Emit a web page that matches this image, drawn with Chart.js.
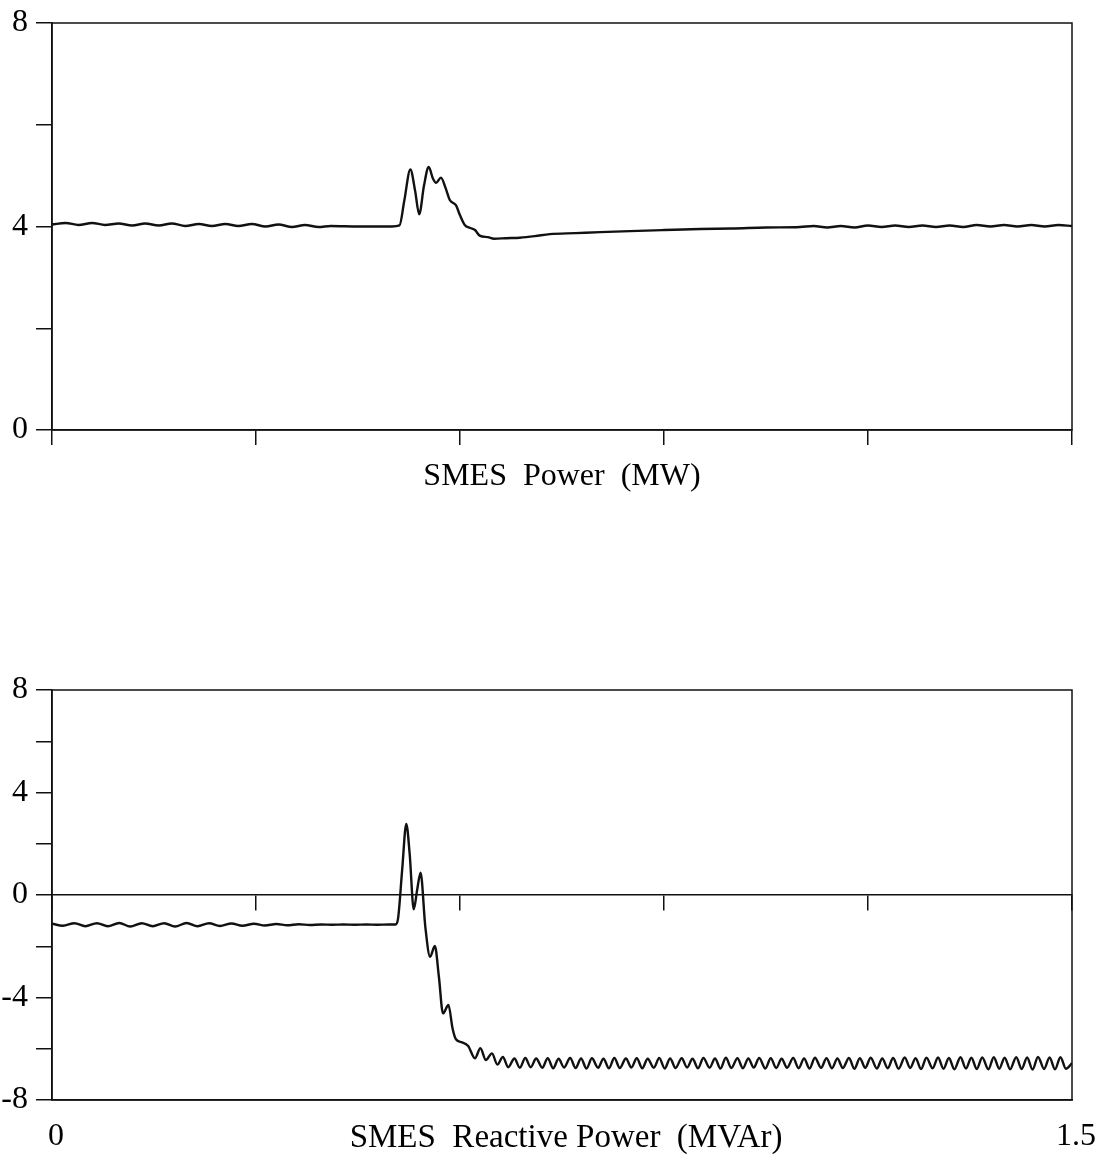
<!DOCTYPE html>
<html>
<head>
<meta charset="utf-8">
<script src="https://cdn.jsdelivr.net/npm/chart.js@4"></script>
<style>
  body { margin: 0; background: #fff; }
  .box { position: absolute; left: 0; width: 1114px; }
  #top-box { top: 0; height: 520px; }
  #bottom-box { top: 640px; height: 525px; }
</style>
</head>
<body>
<div class="box" id="top-box"><canvas id="powerChart"></canvas></div>
<div class="box" id="bottom-box"><canvas id="reactiveChart"></canvas></div>
<script>
// time axis (s)
const timeTicks = [0, 0.3, 0.6, 0.9, 1.2, 1.5];
const timeLabels = [0, 1.5];

// SMES power (MW)
const powerTicks = [0, 2, 4, 6, 8];
const powerLabels = [0, 4, 8];
const powerTime = [
  0, 0.02, 0.039, 0.059, 0.078, 0.098, 0.118, 0.137, 0.157, 0.176, 0.196, 0.216, 0.235, 0.255,
  0.274, 0.294, 0.314, 0.333, 0.353, 0.372, 0.392, 0.41, 0.45, 0.5, 0.511,
  0.518, 0.527, 0.534, 0.540, 0.547, 0.554, 0.560, 0.565, 0.572, 0.579, 0.585, 0.594, 0.600,
  0.607, 0.615, 0.622, 0.629, 0.641, 0.650, 0.668, 0.688, 0.71, 0.732, 0.77, 0.806, 0.85,
  0.9, 0.953, 1.0, 1.05, 1.1, 1.12, 1.14, 1.16, 1.18, 1.2, 1.22, 1.24, 1.26, 1.28, 1.3,
  1.32, 1.34, 1.36, 1.38, 1.4, 1.42, 1.44, 1.46, 1.48, 1.5
];
const powerValue = [
  4.04, 4.07, 4.03, 4.07, 4.03, 4.06, 4.02, 4.06, 4.02, 4.06, 4.01, 4.05, 4.01, 4.05,
  4.01, 4.05, 4.0, 4.04, 3.99, 4.03, 3.99, 4.01, 4.0, 4.0, 4.02,
  4.5, 5.12, 4.7, 4.24, 4.8, 5.17, 4.95, 4.86, 4.96, 4.75, 4.52, 4.42, 4.22,
  4.03, 3.97, 3.93, 3.82, 3.79, 3.76, 3.77, 3.78, 3.81, 3.85, 3.87, 3.89, 3.91,
  3.93, 3.95, 3.96, 3.98, 3.99, 4.01, 3.98, 4.01, 3.98, 4.02, 3.99, 4.02, 3.99, 4.02, 3.99,
  4.02, 3.99, 4.03, 4.0, 4.03, 4.0, 4.03, 4.0, 4.03, 4.01
];

// SMES reactive power (MVAr)
const reactiveTicks = [-8, -6, -4, -2, 0, 2, 4, 6, 8];
const reactiveLabels = [-8, -4, 0, 4, 8];
const reactiveTime = [
  0, 0.016, 0.033, 0.049, 0.066, 0.082, 0.099, 0.115, 0.132, 0.148, 0.165, 0.181, 0.198, 0.214,
  0.231, 0.247, 0.264, 0.280, 0.297, 0.313, 0.330, 0.346, 0.363, 0.379, 0.396, 0.412, 0.429,
  0.445, 0.462, 0.478, 0.495, 0.505,
  0.509, 0.515, 0.521, 0.526, 0.532, 0.537, 0.542, 0.549, 0.556, 0.563, 0.569, 0.575, 0.583,
  0.589, 0.594, 0.603, 0.612, 0.622, 0.630, 0.638, 0.647,
  0.655, 0.663, 0.671, 0.680, 0.688, 0.696, 0.704, 0.712, 0.721, 0.729, 0.737, 0.745, 0.753,
  0.762, 0.770, 0.778, 0.786, 0.794, 0.803, 0.811, 0.819, 0.827, 0.835, 0.844, 0.852, 0.860,
  0.868, 0.876, 0.885, 0.893, 0.901, 0.909, 0.917, 0.926, 0.934, 0.942, 0.950, 0.958, 0.967,
  0.975, 0.983, 0.991, 0.999, 1.008, 1.016, 1.024, 1.032, 1.040, 1.049, 1.057, 1.065, 1.073,
  1.081, 1.090, 1.098, 1.106, 1.114, 1.122, 1.131, 1.139, 1.147, 1.155, 1.163, 1.172, 1.180,
  1.188, 1.196, 1.204, 1.213, 1.221, 1.229, 1.237, 1.245, 1.254, 1.262, 1.270, 1.278, 1.286,
  1.295, 1.303, 1.311, 1.319, 1.327, 1.336, 1.344, 1.352, 1.360, 1.368, 1.377, 1.385, 1.393,
  1.401, 1.409, 1.418, 1.426, 1.434, 1.442, 1.450, 1.459, 1.467, 1.475, 1.483, 1.491, 1.500
];
const reactiveValue = [
  -1.12, -1.2, -1.1, -1.22, -1.1, -1.22, -1.09, -1.23, -1.1, -1.22, -1.1, -1.23, -1.09, -1.22,
  -1.1, -1.21, -1.11, -1.2, -1.12, -1.19, -1.13, -1.18, -1.14, -1.17, -1.15, -1.16, -1.15,
  -1.16, -1.15, -1.16, -1.15, -1.15,
  -0.9, 1.0, 2.77, 1.6, -0.56, 0.2, 0.87, -1.24, -2.41, -1.99, -3.2, -4.62, -4.29,
  -5.2, -5.63, -5.75, -5.89, -6.37, -5.98, -6.44, -6.18,
  -6.62, -6.32, -6.72, -6.38, -6.74, -6.36, -6.72, -6.38, -6.74, -6.37, -6.76, -6.39, -6.73,
  -6.36, -6.75, -6.38, -6.77, -6.37, -6.74, -6.39, -6.76, -6.36, -6.75, -6.38, -6.73, -6.37,
  -6.76, -6.39, -6.74, -6.36, -6.77, -6.38, -6.75, -6.37, -6.73, -6.39, -6.76, -6.36, -6.74,
  -6.38, -6.77, -6.35, -6.75, -6.37, -6.76, -6.38, -6.73, -6.36, -6.77, -6.37, -6.75, -6.39,
  -6.74, -6.36, -6.76, -6.38, -6.77, -6.35, -6.74, -6.37, -6.76, -6.38, -6.75, -6.36, -6.78,
  -6.37, -6.74, -6.35, -6.77, -6.38, -6.76, -6.36, -6.78, -6.34, -6.75, -6.37, -6.79, -6.35,
  -6.76, -6.34, -6.78, -6.36, -6.8, -6.33, -6.77, -6.35, -6.79, -6.34, -6.8, -6.33, -6.78,
  -6.35, -6.8, -6.33, -6.79, -6.34, -6.81, -6.32, -6.79, -6.34, -6.8, -6.33, -6.78, -6.56
];

const ink = '#111';
const labelFont = { family: 'Liberation Serif', size: 32 };

// box around the plot area
const frame = {
  id: 'frame',
  beforeDatasetsDraw(chart) {
    const { ctx, chartArea: a } = chart;
    ctx.save();
    ctx.strokeStyle = ink;
    ctx.lineWidth = 1.5;
    ctx.strokeRect(a.left, a.top, a.right - a.left, a.bottom - a.top);
    ctx.restore();
  }
};

const toPoints = (ts, vs) => ts.map((t, i) => ({ x: t, y: vs[i] }));
const setTicks = list => axis => { axis.ticks = list.map(v => ({ value: v })); };
const pick = list => v => list.some(l => Math.abs(l - v) < 1e-6) ? String(v) : '';
// fixed width for the value axis, no extra room for the end labels
const fixY = s => { s.width = 52; s.paddingTop = 0; s.paddingBottom = 0; };

function lineDataset(ts, vs) {
  return {
    data: toPoints(ts, vs),
    borderColor: ink,
    borderWidth: 2.4,
    pointRadius: 0,
    cubicInterpolationMode: 'monotone',
    fill: false
  };
}

const baseOpts = {
  responsive: true,
  maintainAspectRatio: false,
  animation: false,
  plugins: { legend: { display: false }, tooltip: { enabled: false } }
};

new Chart(document.getElementById('powerChart'), {
  type: 'line',
  data: { datasets: [lineDataset(powerTime, powerValue)] },
  plugins: [frame],
  options: {
    ...baseOpts,
    layout: { padding: { top: 23, right: 42, left: 0, bottom: 0 } },
    scales: {
      x: {
        type: 'linear', min: 0, max: 1.5,
        afterBuildTicks: setTicks(timeTicks),
        ticks: { callback: () => '' },
        grid: { drawOnChartArea: false, tickLength: 15, color: ink, lineWidth: 1.5 },
        border: { color: ink, width: 1.5 },
        title: { display: true, text: 'SMES  Power  (MW)', color: '#000', font: labelFont, padding: { top: 0, bottom: 24 } },
        afterFit: s => { s.height = 90; }
      },
      y: {
        min: 0, max: 8,
        afterBuildTicks: setTicks(powerTicks),
        ticks: { callback: pick(powerLabels), color: '#000', font: labelFont, padding: 8 },
        grid: { drawOnChartArea: false, tickLength: 16, color: ink, lineWidth: 1.5 },
        border: { color: ink, width: 1.5 },
        afterFit: fixY
      }
    }
  }
});

new Chart(document.getElementById('reactiveChart'), {
  type: 'line',
  data: { datasets: [lineDataset(reactiveTime, reactiveValue)] },
  plugins: [frame],
  options: {
    ...baseOpts,
    layout: { padding: { top: 50, right: 42, left: 0, bottom: 0 } },
    scales: {
      x: {
        type: 'linear', min: 0, max: 1.5,
        afterBuildTicks: setTicks(timeTicks),
        ticks: { callback: pick(timeLabels), color: '#000', font: labelFont, padding: 17, labelOffset: 4, maxRotation: 0 },
        grid: { drawOnChartArea: false, drawTicks: false },
        border: { color: ink, width: 1.5 },
        title: { display: true, text: ' SMES  Reactive Power  (MVAr)', color: '#000', font: { family: 'Liberation Serif', size: 33 }, padding: { top: 0, bottom: 7 } },
        afterFit: s => { s.height = 65; }
      },
      zero: {
        axis: 'x',
        type: 'linear', min: 0, max: 1.5,
        position: { y: 0 },
        afterBuildTicks: setTicks(timeTicks),
        ticks: { callback: () => '' },
        grid: { drawOnChartArea: false, tickLength: 15, color: ink, lineWidth: 1.5 },
        border: { color: ink, width: 1.5 }
      },
      y: {
        min: -8, max: 8,
        afterBuildTicks: setTicks(reactiveTicks),
        ticks: { callback: pick(reactiveLabels), color: '#000', font: labelFont, padding: 8 },
        grid: { drawOnChartArea: false, tickLength: 16, color: ink, lineWidth: 1.5 },
        border: { color: ink, width: 1.5 },
        afterFit: fixY
      }
    }
  }
});
</script>
</body>
</html>
